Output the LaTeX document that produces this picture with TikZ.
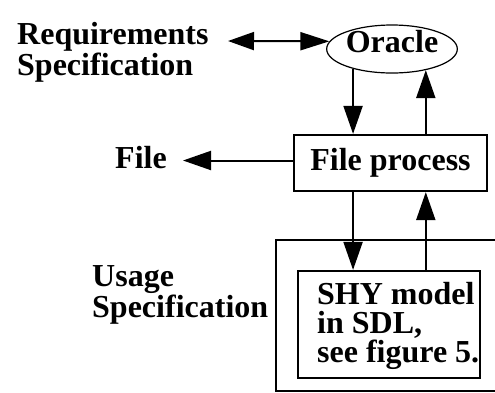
\documentclass[tikz,border=0pt]{standalone}
\usepackage{fontspec}
\setmainfont{Liberation Serif}
\usetikzlibrary{arrows.meta,shapes.geometric}
\begin{document}
\begin{tikzpicture}[x=1pt,y=-1pt,
  txt/.style={font=\fontsize{32}{29}\selectfont\bfseries, inner sep=0pt, align=left},
  box/.style={draw, line width=2.2pt, inner sep=0pt},
  link/.style={line width=2pt, -{Triangle[length=28pt,width=19pt]}},
]
\useasboundingbox (0,0) rectangle (495,392);

% text labels (base anchor sits on the last line)
\node[txt, anchor=base west] (req) at (17,75) {Requirements\\Specification};
\node[txt, anchor=base west] (file) at (115,168) {File};
\node[txt, anchor=base west] (usage) at (92,317) {Usage\\Specification};

% oracle and file process
\node[txt, draw, ellipse, line width=1.2pt, minimum width=130pt, minimum height=48pt,
      text height=12pt, text depth=6pt] (oracle) at (392,49) {Oracle};
\node[box, txt, minimum width=193pt, minimum height=56pt] (proc) at (390.5,163) {File process};

% SDL model inside the open usage frame
\draw[line width=2pt] (495,240) -- (275.5,240) -- (275.5,391) -- (495,391);
\node[box, minimum width=182pt, minimum height=107pt] (shy) at (389,324.5) {};
\node[txt, anchor=base west] (shytext) at (317,362) {SHY model\\in SDL,\\see figure 5.};

% connectors
\coordinate (reqport) at (228,41);
\coordinate (fileport) at (183,160.5);
\draw[line width=2pt, {Triangle[length=26pt,width=18pt]}-{Triangle[length=29pt,width=18pt]}]
  (reqport) -- (oracle.173);
\draw[link] (oracle.207) -- (oracle.207 |- proc.north);
\draw[link] (oracle.328 |- proc.north) -- (oracle.328);
\draw[link] (proc.west |- fileport) -- (fileport);
\draw[link] (oracle.207 |- proc.south) -- (oracle.207 |- shy.north);
\draw[link] (oracle.328 |- shy.north) -- (oracle.328 |- proc.south);
\end{tikzpicture}
\end{document}
